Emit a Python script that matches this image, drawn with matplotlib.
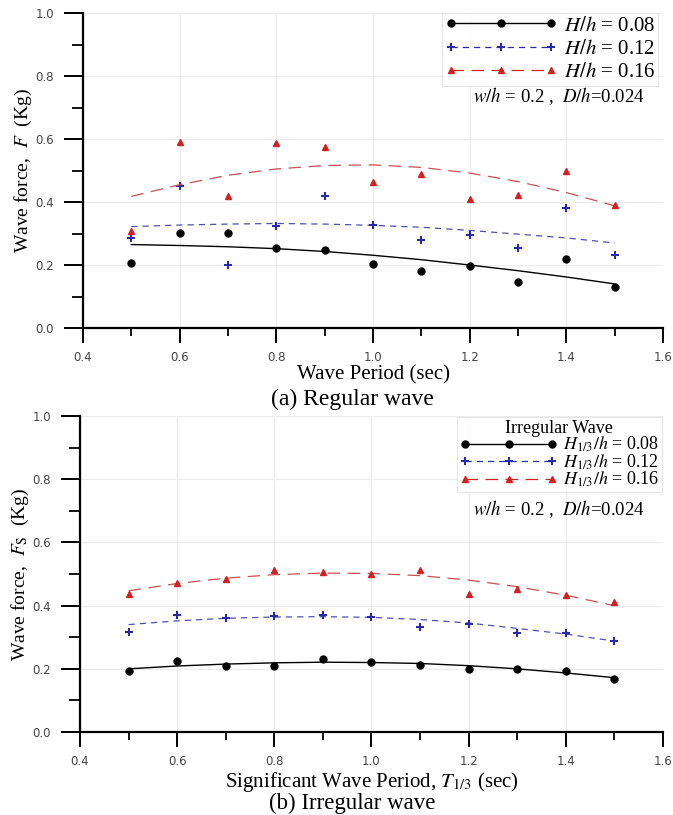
import matplotlib.pyplot as plt
from matplotlib.ticker import MultipleLocator

plt.rcParams['font.family'] = ['Liberation Serif', 'DejaVu Serif']
plt.rcParams['mathtext.fontset'] = 'stix'

# wave periods (sec)
periods = [0.5, 0.6, 0.7, 0.8, 0.9, 1.0, 1.1, 1.2, 1.3, 1.4, 1.5]

# (a) regular wave - measured forces
reg_008 = [0.208, 0.302, 0.303, 0.254, 0.249, 0.202, 0.181, 0.198, 0.147, 0.219, 0.131]
reg_012 = [0.285, 0.452, 0.200, 0.323, 0.418, 0.326, 0.279, 0.295, 0.254, 0.381, 0.233]
reg_016 = [0.307, 0.592, 0.420, 0.587, 0.574, 0.465, 0.488, 0.409, 0.421, 0.500, 0.391]
# (a) trend lines
reg_fit_008 = [0.265, 0.262, 0.258, 0.252, 0.243, 0.231, 0.217, 0.200, 0.182, 0.162, 0.140]
reg_fit_012 = [0.322, 0.327, 0.330, 0.332, 0.330, 0.326, 0.320, 0.310, 0.298, 0.286, 0.270]
reg_fit_016 = [0.418, 0.455, 0.485, 0.505, 0.516, 0.518, 0.510, 0.492, 0.465, 0.430, 0.388]

# (b) irregular wave - measured forces
irr_008 = [0.192, 0.226, 0.208, 0.210, 0.232, 0.223, 0.213, 0.198, 0.201, 0.192, 0.169]
irr_012 = [0.318, 0.370, 0.361, 0.366, 0.371, 0.364, 0.333, 0.342, 0.312, 0.313, 0.289]
irr_016 = [0.437, 0.471, 0.485, 0.512, 0.508, 0.499, 0.514, 0.437, 0.453, 0.434, 0.410]
# (b) trend lines
irr_fit_008 = [0.200, 0.209, 0.215, 0.219, 0.221, 0.220, 0.217, 0.210, 0.200, 0.187, 0.172]
irr_fit_012 = [0.340, 0.352, 0.360, 0.364, 0.365, 0.363, 0.356, 0.345, 0.328, 0.310, 0.288]
irr_fit_016 = [0.447, 0.470, 0.487, 0.498, 0.503, 0.502, 0.495, 0.481, 0.460, 0.433, 0.400]

reg_labels = [r'$H/h$ = 0.08', r'$H/h$ = 0.12', r'$H/h$ = 0.16']
irr_labels = [r'$H_{1/3}/h$ = 0.08', r'$H_{1/3}/h$ = 0.12', r'$H_{1/3}/h$ = 0.16']

styles = [
    dict(color='black', marker='o', ms=5, ls='-', lw=1.0),
    dict(color='#2a2aa8', marker='+', ms=6, mew=1.5, ls=(0, (5, 4)), lw=0.9),
    dict(color='#d42020', marker='^', ms=5, ls=(0, (10, 6)), lw=0.9),
]
line_colors = ['black', '#5050b0', '#c85050']


def draw_panel(ax, data, fits, labels, xlabel, ylabel, leg_anchor, fontsize,
               spacing, xlabel_y, title=None):
    for y, fit, lab, st, lc in zip(data, fits, labels, styles, line_colors):
        ax.plot(periods, fit, color=lc, ls=st['ls'], lw=st['lw'])
        ax.plot(periods, y, color=st['color'], marker=st['marker'], ms=st['ms'],
                mew=st.get('mew', 1.0), ls='none')
        # legend handle: line with markers
        ax.plot([], [], label=lab, **st)

    ax.set_xlim(0.4, 1.6)
    ax.set_ylim(0.0, 1.0)
    ax.xaxis.set_major_locator(MultipleLocator(0.2))
    ax.xaxis.set_minor_locator(MultipleLocator(0.1))
    ax.yaxis.set_major_locator(MultipleLocator(0.2))
    ax.yaxis.set_minor_locator(MultipleLocator(0.1))
    ax.grid(True, which='major', color='#ececec', lw=0.8)
    ax.set_axisbelow(True)
    for s in ['top', 'right']:
        ax.spines[s].set_visible(False)
    for s in ['left', 'bottom']:
        ax.spines[s].set_linewidth(1.6)
    ax.tick_params(axis='x', which='major', direction='out', length=11,
                   width=1.4, pad=5.5, labelsize=8.5, labelcolor='#444444')
    ax.tick_params(axis='x', which='minor', direction='out', length=5.5, width=1.3)
    ax.tick_params(axis='y', which='major', direction='out', length=14,
                   width=1.4, pad=7, labelsize=8.5, labelcolor='#444444')
    ax.tick_params(axis='y', which='minor', direction='out', length=8, width=1.3)
    for t in ax.get_xticklabels() + ax.get_yticklabels():
        t.set_family('DejaVu Sans')

    ax.set_xlabel(xlabel, fontsize=15)
    ax.xaxis.label.set_va('center')
    ax.xaxis.set_label_coords(0.5, xlabel_y)
    ax.set_ylabel(ylabel, fontsize=14)
    ax.yaxis.label.set_va('center')
    ax.yaxis.set_label_coords(-0.103, 0.5)

    leg = ax.legend(loc='upper right', bbox_to_anchor=leg_anchor, numpoints=3,
                    handlelength=5.4, fontsize=fontsize, title=title,
                    title_fontsize=13, frameon=True, fancybox=False,
                    borderpad=0.15, labelspacing=spacing, handletextpad=0.3,
                    borderaxespad=0.0)
    leg.get_frame().set_edgecolor('#e0e0e0')
    leg.get_frame().set_linewidth(0.8)
    return leg


fig = plt.figure(figsize=(6.73, 8.15), dpi=100)

ax1 = fig.add_axes([0.1233, 0.5975, 0.862, 0.3865])
draw_panel(ax1, [reg_008, reg_012, reg_016],
           [reg_fit_008, reg_fit_012, reg_fit_016], reg_labels,
           'Wave Period (sec)', r'Wave force,  $F$  (Kg)', (0.992, 1.0), 15,
           0.18, -0.15)
ax1.text(0.969, 0.735, r'$w/h$ = 0.2 ,  $D/h$=0.024', transform=ax1.transAxes,
         ha='right', va='center', fontsize=13.5)
fig.text(0.523, 1 - 399 / 815, '(a) Regular wave', ha='center', va='center',
         fontsize=17)

ax2 = fig.add_axes([0.1189, 0.1018, 0.866, 0.3877])
draw_panel(ax2, [irr_008, irr_012, irr_016],
           [irr_fit_008, irr_fit_012, irr_fit_016], irr_labels,
           r'Significant Wave Period, $T_{1/3}$ (sec)',
           r'Wave force,  $F_{\rm S}$  (Kg)', (0.998, 0.997), 13, -0.1,
           -0.157, title='Irregular Wave')
ax2.text(0.969, 0.706, r'$w/h$ = 0.2 ,  $D/h$=0.024', transform=ax2.transAxes,
         ha='right', va='center', fontsize=13.5)
fig.text(0.523, 1 - 803 / 815, '(b) Irregular wave', ha='center', va='center',
         fontsize=16.5)

fig.savefig('out.png', dpi=100)
